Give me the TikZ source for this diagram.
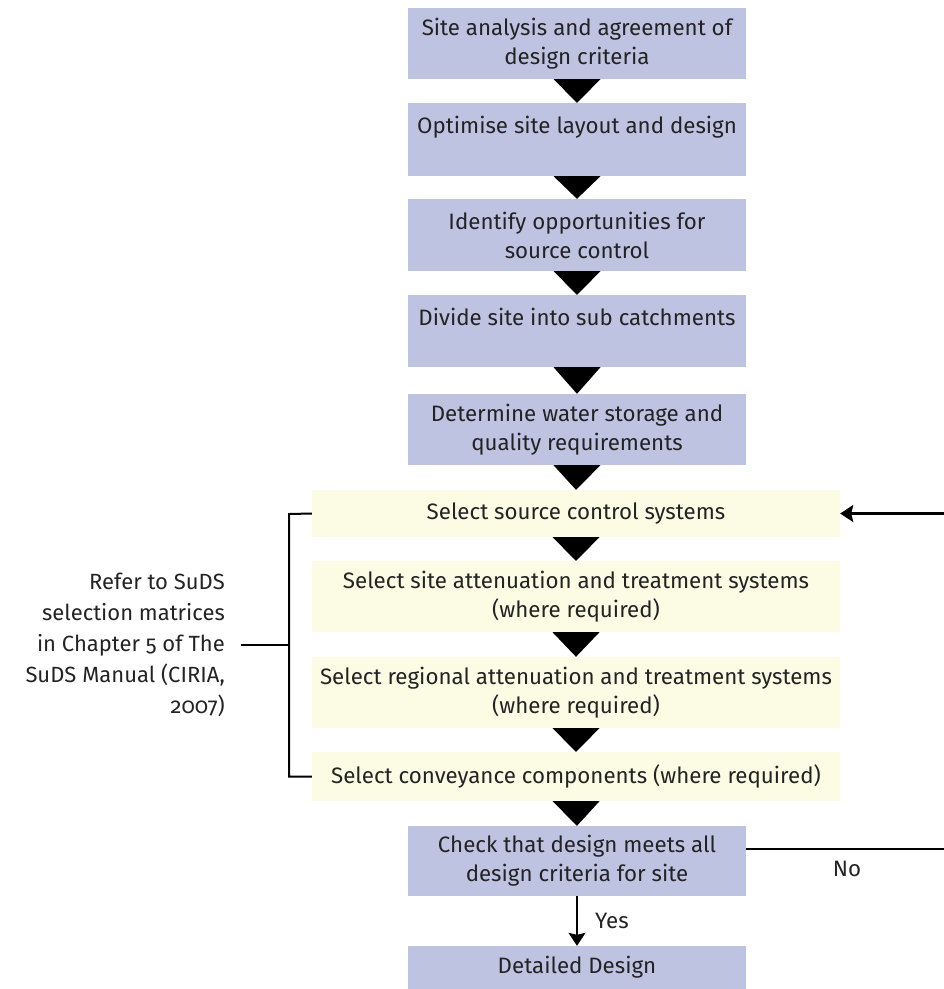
\documentclass[tikz,border=0pt]{standalone}
\usepackage{fontspec}
\setmainfont{Fira Sans}[Numbers=OldStyle]
\usetikzlibrary{arrows.meta}
\definecolor{boxblue}{RGB}{191,195,226}
\definecolor{boxyellow}{RGB}{252,251,228}
\definecolor{txt}{RGB}{35,35,35}
\tikzset{
  box/.style={inner sep=0pt, align=center, font=\fontsize{22.3}{29}\selectfont, text=txt, minimum width=338pt},
  bluebox/.style={box, fill=boxblue},
  yelbox/.style={box, fill=boxyellow, minimum width=528pt},
  lbl/.style={font=\fontsize{22.3}{29}\selectfont, text=txt},
  tri/.style={fill=black},
  conn/.style={line width=2.2pt, draw=black},
  arr/.style={-{Stealth[length=13pt,width=17pt,inset=2pt]}}
}
\begin{document}
\begin{tikzpicture}[x=1pt,y=-1pt]
\useasboundingbox (0,0) rectangle (944,989);
\node[bluebox, minimum height=71pt] (b1) at (577,43.5) {Site analysis and agreement of\\design criteria};
\node[bluebox, minimum height=73pt] (b2) at (577,139.5) {Optimise site layout and design\\\mbox{}};
\node[bluebox, minimum height=72pt] (b3) at (577,235) {Identify opportunities for\\source control};
\node[bluebox, minimum height=72pt] (b4) at (577,331) {Divide site into sub catchments\\\mbox{}};
\node[bluebox, minimum height=71pt] (b5) at (577,429.5) {Determine water storage and\\quality requirements};
\node[yelbox, minimum height=47pt] (y1) at (576,513.5) {Select source control systems};
\node[yelbox, minimum height=71pt] (y2) at (576,596.5) {Select site attenuation and treatment systems\\(where required)};
\node[yelbox, minimum height=71pt] (y3) at (576,692.5) {Select regional attenuation and treatment systems\\(where required)};
\node[yelbox, minimum height=49pt] (y4) at (576,776.5) {Select conveyance components (where required)};
\node[bluebox, minimum height=70pt] (c) at (577,861) {Check that design meets all\\design criteria for site};
\node[bluebox, minimum height=43pt] (d) at (577,967.5) {Detailed Design};

\foreach \a/\b in {b1/b2,b2/b3,b3/b4,b4/b5,b5/y1,y1/y2,y2/y3,y3/y4,y4/c}
  \fill[tri] (\a.south) ++(-23.5,0) -- ++(47,0) -- (\b.north) -- cycle;

% bracket
\node[lbl, anchor=east, align=right, inner xsep=16pt, font=\fontsize{22}{31}\selectfont] (note) at (241,645)
  {Refer to SuDS\\selection matrices\\in Chapter 5 of The\\SuDS Manual (CIRIA,\\2007)};
\coordinate (brk) at (289,645);
\draw[line width=2pt] (y1.west) -- (289,514) -- (289,776.5) -- (y4.west);
\draw[line width=2pt] (note.east) -- (brk);

% feedback loop
\coordinate (fb) at (960,849);
\draw[conn, arr] ([yshift=12pt]c.east) -- (fb) |- (y1.east);
\node[lbl] (no) at (847,869) {No};

% yes
\draw[line width=2pt, arr] (c.south) -- (d.north);
\node[lbl] (yes) at (612,921) {Yes};
\end{tikzpicture}
\end{document}
